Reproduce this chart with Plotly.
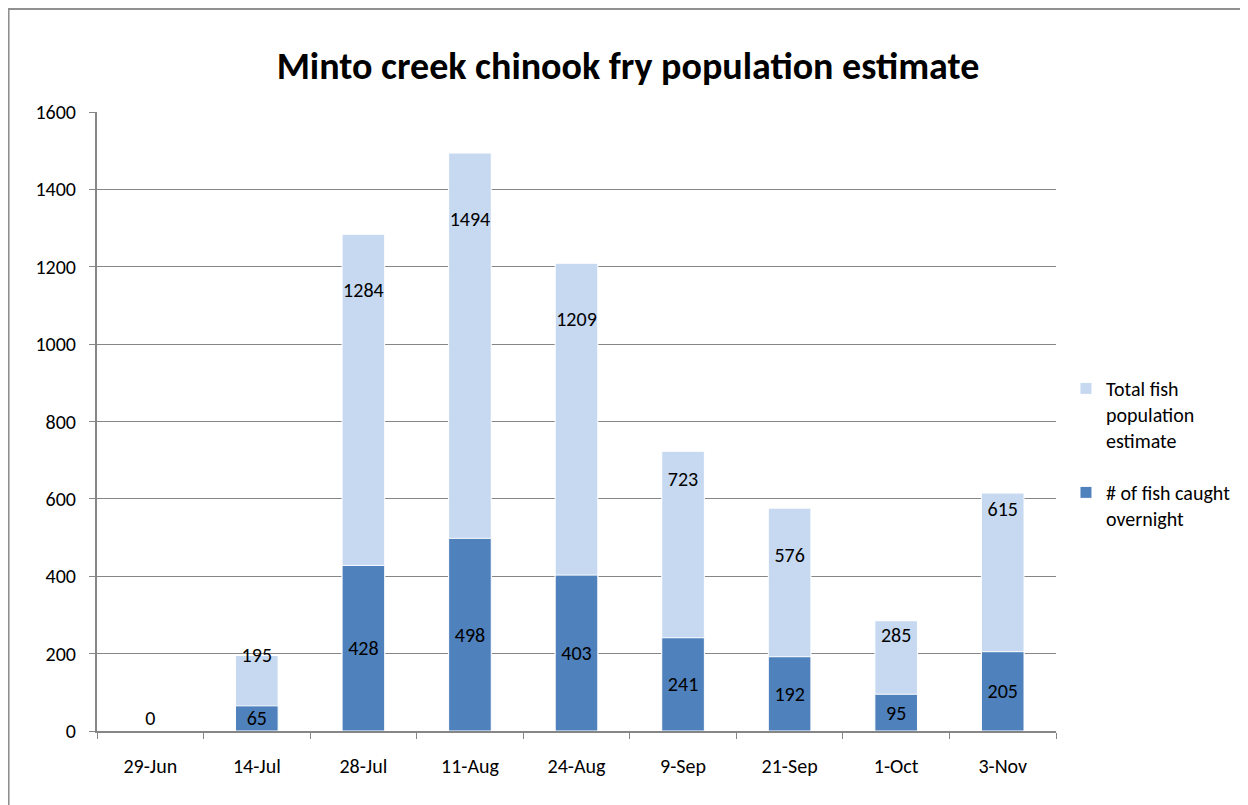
import plotly.graph_objects as go

# survey dates and counts
dates = ["29-Jun", "14-Jul", "28-Jul", "11-Aug", "24-Aug", "9-Sep", "21-Sep", "1-Oct", "3-Nov"]
total_est = [0, 195, 1284, 1494, 1209, 723, 576, 285, 615]
caught = [0, 65, 428, 498, 403, 241, 192, 95, 205]
# where the total labels sit on the bars
total_label_y = [28, 191, 1135, 1318, 1060, 646, 450, 243, 568]

y_ticks = [0, 200, 400, 600, 800, 1000, 1200, 1400, 1600]

light_blue = "#C6D9F1"
dark_blue = "#4F81BD"
font_family = "Carlito, Calibri, Lato, sans-serif"
fs = 20

fig = go.Figure()

fig.add_trace(go.Bar(x=dates, y=total_est, name="Total fish<br>population<br>estimate",
                     legendgroup="total",
                     marker=dict(color=light_blue, line=dict(color="white", width=1)),
                     width=0.4))
fig.add_trace(go.Bar(x=dates, y=caught, name="# of fish caught<br>overnight",
                     legendgroup="caught",
                     marker=dict(color=dark_blue, line=dict(color="white", width=1)),
                     width=0.4,
                     text=[str(v) if v else "" for v in caught],
                     textposition="inside", insidetextanchor="middle",
                     constraintext="none",
                     textfont=dict(size=fs, color="black", family=font_family),
                     textangle=0))

# labels for the total estimate
fig.add_trace(go.Scatter(x=dates, y=total_label_y, mode="text",
                         text=[str(v) for v in total_est],
                         textfont=dict(size=fs, color="black", family=font_family),
                         showlegend=False, hoverinfo="skip"))

fig.update_layout(
    barmode="overlay",
    width=1240, height=797,
    margin=dict(l=89, r=186, t=104, b=74),
    paper_bgcolor="white", plot_bgcolor="white",
    font=dict(family=font_family, size=fs, color="black"),
    title=dict(text="<b>Minto creek chinook fry population estimate</b>",
               x=0.5, xanchor="center", y=0.928, yanchor="middle",
               font=dict(size=38, color="black", family=font_family)),
    legend=dict(x=1.0104, xanchor="left", y=0.585, yanchor="top", valign="top",
                bgcolor="rgba(0,0,0,0)",
                font=dict(size=fs), tracegroupgap=23, itemwidth=30),
    bargap=0.6,
)

fig.update_xaxes(showline=True, linecolor="#868686", linewidth=2,
                 ticks="outside", tickson="boundaries", ticklen=6,
                 tickcolor="#868686", tickwidth=1, ticklabelstandoff=16,
                 tickfont=dict(size=fs), showgrid=False)
fig.update_yaxes(range=[0, 1600], tickvals=y_ticks, showline=True,
                 linecolor="#868686", linewidth=2, ticks="outside", ticklen=6,
                 tickcolor="#868686", ticklabelstandoff=9,
                 showgrid=True, gridcolor="#868686",
                 gridwidth=1, zeroline=False, tickfont=dict(size=fs))

# chart border
fig.add_shape(type="rect", xref="paper", yref="paper",
              x0=-0.0922, x1=1.4, y0=-0.3, y1=1.1664,
              line=dict(color="#909090", width=2), layer="below")

fig.write_html("out.html")
